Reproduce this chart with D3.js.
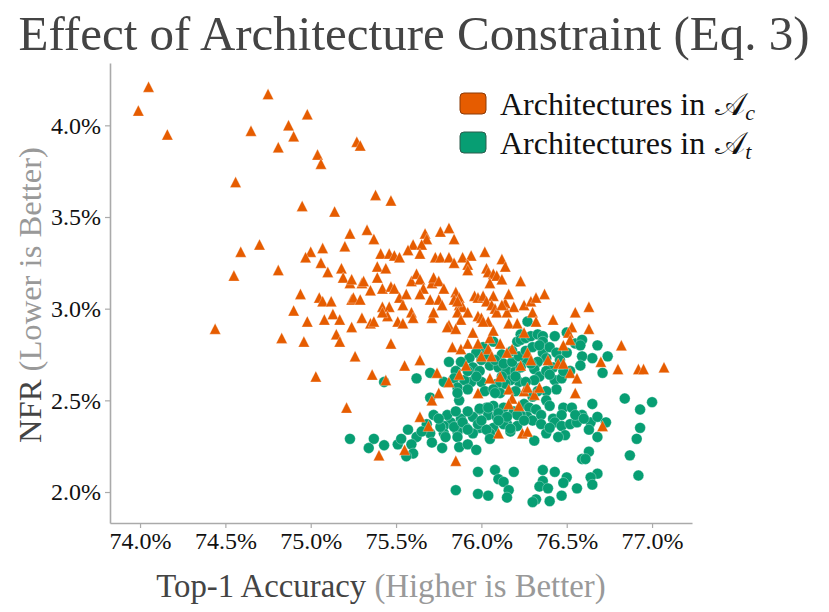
<!DOCTYPE html>
<html>
<head>
<meta charset="utf-8">
<script src="https://cdn.jsdelivr.net/npm/d3@7"></script>
<style>
  body { margin: 0; background: #fff; }
  svg { font-family: "Liberation Serif", "Times New Roman", serif; }
</style>
</head>
<body>
<svg id="chart" width="829" height="612"></svg>
<script>
// tick values on both axes
var xTicks = [74.0, 74.5, 75.0, 75.5, 76.0, 76.5, 77.0];
var yTicks = [2.0, 2.5, 3.0, 3.5, 4.0];

// legend entries
var seriesNames = ["Architectures in ", "Architectures in "];
var seriesSubs = ["c", "t"];

// architectures in A_c : [top-1 accuracy %, NFR %]
var archC = [
  [74.05,4.21],[73.99,4.08],[74.16,3.95],[74.75,4.17],[74.98,4.06],[74.65,3.97],[74.87,4.00],[74.90,3.94],[74.81,3.88],[74.56,3.69],[74.95,3.56],
  [75.27,3.91],[75.29,3.89],[75.04,3.84],[75.06,3.79],[75.38,3.62],[75.47,3.59],[75.14,3.53],[75.23,3.41],[75.33,3.43],
  [74.59,3.31],[74.70,3.35],[75.00,3.31],[74.97,3.28],[75.07,3.33],[75.20,3.34],[75.06,3.25],[75.10,3.20],[75.18,3.22],[75.19,3.17],[75.23,3.14],[75.24,3.16],[75.30,3.14],[74.55,3.18],[74.81,3.21],
  [74.94,3.08],[75.05,3.06],[75.07,3.04],[75.12,3.04],[75.24,3.05],[75.25,3.06],[75.29,3.05],[74.90,2.99],[74.98,2.93],[75.08,2.94],[75.13,2.97],[75.17,2.94],[75.30,2.95],[75.24,2.90],
  [74.44,2.89],[74.83,2.84],[74.96,2.82],[75.15,2.86],[75.17,2.82],[75.35,2.92],[75.37,3.38],
  [75.67,3.41],[75.68,3.38],[75.76,3.42],[75.81,3.44],[75.84,3.38],[75.60,3.35],[75.57,3.32],[75.65,3.35],[75.64,3.30],[75.41,3.30],[75.46,3.30],[75.49,3.29],[75.52,3.28],[75.73,3.28],[75.76,3.28],[75.81,3.28],[75.84,3.25],[75.89,3.28],[75.94,3.29],[75.92,3.24],[75.92,3.21],[76.02,3.31],[76.12,3.27],[76.14,3.23],[76.03,3.22],[76.04,3.20],[76.07,3.19],[76.09,3.18],[76.12,3.16],[76.05,3.14],[76.23,3.15],
  [75.39,3.23],[75.44,3.22],[75.39,3.17],[75.31,3.15],[75.35,3.10],[75.42,3.11],[75.47,3.12],[75.49,3.11],[75.52,3.06],[75.56,3.08],[75.59,3.15],[75.62,3.19],[75.64,3.16],[75.66,3.11],[75.64,3.08],[75.71,3.14],[75.72,3.17],[75.75,3.15],[75.78,3.11],[75.70,3.05],[75.75,3.05],[75.77,3.02],[75.85,3.09],[75.87,3.06],[75.84,3.05],[75.87,3.02],[75.89,3.01],[75.96,3.07],[75.98,3.06],[76.01,3.07],[76.07,3.07],[76.03,3.04],[76.06,3.02],[76.08,3.00],[76.14,3.03],[76.16,3.08],[76.19,3.01],[76.25,3.02],
  [75.42,3.01],[75.46,3.01],[75.54,3.02],[75.59,2.98],[75.45,2.96],[75.42,2.98],[75.37,2.93],[75.51,2.93],[75.54,2.92],[75.60,2.95],[75.71,2.95],[75.72,2.98],[75.81,2.91],[75.86,2.98],[75.88,2.94],[75.92,2.98],[75.98,2.96],[76.00,2.95],[76.04,2.93],[76.09,2.98],[76.15,2.98],[76.16,2.92],[76.21,2.92],
  [75.86,3.04],[76.12,3.02],[76.29,3.04],[75.80,2.90],[75.85,2.89],[75.95,2.87],[76.01,2.93],[76.05,2.84],[76.07,2.88],[76.25,2.87],[76.30,2.98],[76.32,2.93],[76.42,2.94],[76.55,2.98],[76.63,3.01],[76.53,2.90],[76.51,2.87],[76.63,2.89],[76.52,2.83],[76.48,2.80],
  [75.83,2.79],[75.88,2.78],[75.92,2.81],[75.98,2.81],[76.04,2.78],[76.06,2.74],[76.00,2.74],[76.11,2.81],[76.18,2.78],[76.15,2.76],[76.27,2.76],[76.29,2.72],[76.23,2.69],[76.39,2.72],[76.45,2.70],[76.48,2.70],[76.70,2.71],[76.80,2.67],
  [75.91,2.69],[75.87,2.64],[75.81,2.60],[75.98,2.54],[76.05,2.62],[76.11,2.63],[76.16,2.56],[76.18,2.51],[76.16,2.48],[76.22,2.47],[76.25,2.55],[76.27,2.57],[76.31,2.53],[76.34,2.57],[76.52,2.65],[76.56,2.62],[76.55,2.54],[76.10,2.32],[76.24,2.32],[76.27,2.33],[76.71,2.36],
  [76.37,3.08],[76.32,3.06],[76.82,2.80],[76.92,2.67],[76.95,2.67],[77.07,2.68],
  [75.21,2.46],[75.40,2.20],[75.55,2.23],[75.64,2.41],[75.69,2.36],[75.85,2.17],[75.75,2.54],[75.71,2.50],
  [75.47,2.81],[75.55,2.69],[75.64,2.72],[75.74,2.65],[75.44,2.61],[75.03,2.63],[75.26,2.74],[75.36,2.64]
];

// architectures in A_t : [top-1 accuracy %, NFR %]
var archT = [
  [76.21,2.82],[76.18,2.77],[76.12,2.75],[76.07,2.82],[76.01,2.79],[75.97,2.76],[75.93,2.73],[75.88,2.71],[75.81,2.71],[75.85,2.66],[75.95,2.68],[75.99,2.66],[76.05,2.69],[76.10,2.68],[76.15,2.66],[76.20,2.66],
  [76.22,2.60],[76.17,2.61],[76.14,2.59],[76.09,2.59],[76.00,2.60],[75.94,2.60],[75.90,2.61],[75.84,2.62],[75.78,2.60],[75.86,2.57],[75.92,2.56],[76.02,2.55],[76.07,2.56],[76.11,2.54],[76.20,2.55],
  [76.19,2.44],[76.13,2.46],[76.07,2.47],[76.03,2.46],[75.99,2.45],[76.04,2.42],[75.95,2.41],[75.88,2.40],[75.82,2.38],[75.78,2.36],[75.91,2.35],[75.99,2.35],[76.07,2.35],[76.15,2.37],[76.21,2.36],[76.17,2.33],[76.05,2.32],[75.95,2.32],[75.86,2.33],[75.78,2.32],
  [76.27,2.93],[76.23,2.86],[76.23,2.83],[76.26,2.84],[76.29,2.85],[76.33,2.86],[76.36,2.85],[76.43,2.85],[76.36,2.82],[76.50,2.87],[76.55,2.81],[76.59,2.83],[76.58,2.80],[76.50,2.76],[76.68,2.80],[76.65,2.73],[76.74,2.74],[76.59,2.74],[76.58,2.69],[76.52,2.66],[76.71,2.65],
  [76.36,2.76],[76.38,2.73],[76.33,2.71],[76.31,2.67],[76.29,2.70],[76.26,2.72],[76.23,2.68],[76.34,2.63],[76.31,2.61],[76.26,2.60],[76.43,2.61],[76.47,2.62],[76.44,2.56],[76.38,2.55],[76.33,2.55],[76.30,2.52],[76.38,2.50],[76.40,2.47],[76.25,2.48],[76.28,2.46],[76.32,2.45],
  [76.27,2.41],[76.23,2.42],[76.30,2.39],[76.35,2.42],[76.42,2.40],[76.48,2.46],[76.53,2.46],[76.47,2.42],[76.43,2.38],[76.47,2.36],[76.52,2.37],[76.56,2.38],[76.59,2.42],[76.64,2.38],[76.68,2.41],[76.73,2.38],[76.65,2.48],[76.63,2.34],[76.68,2.30],[76.49,2.31],[76.45,2.30],[76.38,2.32],[76.31,2.28],
  [76.84,2.51],[76.93,2.45],[77.00,2.49],[76.93,2.35],[76.91,2.29],[76.87,2.20],[76.92,2.09],
  [76.63,2.22],[76.59,2.18],[76.61,2.18],[76.68,2.10],[76.64,2.08],[76.65,2.04],[76.36,2.12],[76.43,2.11],[76.50,2.08],[76.48,2.05],[76.36,2.06],[76.34,2.03],[76.39,2.02],[76.56,2.02],[76.47,1.98],[76.32,1.96],[76.30,1.945],[76.40,1.95],
  [75.23,2.29],[75.37,2.29],[75.34,2.24],[75.43,2.255],[75.51,2.26],[75.53,2.29],[75.57,2.34],[75.62,2.30],[75.59,2.26],[75.60,2.21],[75.56,2.195],
  [75.72,2.42],[75.70,2.32],[75.71,2.27],[75.76,2.355],[75.77,2.24],[75.79,2.30],[75.84,2.355],[75.86,2.30],[75.87,2.245],[75.89,2.38],[75.92,2.34],[75.92,2.26],[75.97,2.23],[75.98,2.37],[76.03,2.34],[76.05,2.29],
  [75.99,2.455],[76.04,2.46],[76.09,2.41],[76.13,2.37],[76.17,2.345],[76.21,2.42],[75.87,2.50],[75.70,2.515],[75.86,2.54],[76.08,2.54],
  [75.98,2.11],[76.08,2.12],[76.19,2.11],[76.10,2.07],[76.13,2.055],[76.16,2.01],[76.15,1.97],[75.85,2.01],[75.98,1.99],[76.04,1.98],
  [75.43,2.60],[75.62,2.62],[75.70,2.65],
  [76.00,2.72],[76.03,2.75],[76.08,2.72],[76.13,2.70],[76.18,2.71],[76.22,2.74],[76.26,2.77],[76.30,2.79],[76.34,2.80],[76.40,2.79],[76.44,2.76],[76.46,2.72],[76.42,2.68],[76.38,2.66],[76.20,2.63],[76.12,2.63],[75.97,2.63],[75.92,2.66],[76.48,2.66],[76.40,2.64],
  [75.80,2.42],[75.85,2.44],[75.92,2.44],[76.10,2.43],[76.15,2.41],[76.25,2.39],[76.35,2.37],[76.40,2.35],[76.55,2.42],[76.60,2.40],[76.00,2.39],[76.10,2.39],[75.75,2.40],[75.68,2.37],[75.65,2.33]
];

var orange = "#e65c00";
var green = "#079e73";

var svg = d3.select("#chart");

// plot frame (left / bottom spines only)
var plot = {left: 110, right: 692, top: 63, bottom: 523};

var x = d3.scaleLinear().domain([73.824, 77.234]).range([plot.left, plot.right]);
var y = d3.scaleLinear().domain([1.831, 4.340]).range([plot.bottom, plot.top]);

var fmt = function(d){ return d.toFixed(1) + "%"; };

// title
svg.append("text")
  .attr("x", 414).attr("y", 50)
  .attr("text-anchor", "middle")
  .attr("font-size", 49)
  .attr("fill", "#444")
  .text("Effect of Architecture Constraint (Eq. 3)");

// axes
var xAxis = svg.append("g")
  .attr("transform", "translate(0," + plot.bottom + ")")
  .call(d3.axisBottom(x).tickValues(xTicks).tickFormat(fmt).tickSize(5).tickPadding(4).tickSizeOuter(0));
var yAxis = svg.append("g")
  .attr("transform", "translate(" + plot.left + ",0)")
  .call(d3.axisLeft(y).tickValues(yTicks).tickFormat(fmt).tickSize(5).tickPadding(4).tickSizeOuter(0));

[xAxis, yAxis].forEach(function(g){
  g.attr("font-family", null).attr("font-size", null);
  g.select(".domain").attr("stroke", "#aaa").attr("stroke-width", 1.6);
  g.selectAll(".tick line").attr("stroke", "#aaa").attr("stroke-width", 1.2);
  g.selectAll(".tick text").attr("fill", "#111").attr("font-size", 24);
});

// axis titles: main part dark, hint in light grey
var xt = svg.append("text")
  .attr("x", 381).attr("y", 597)
  .attr("text-anchor", "middle")
  .attr("font-size", 32.8);
xt.append("tspan").attr("fill", "#444").text("Top-1 Accuracy ");
xt.append("tspan").attr("fill", "#999").text("(Higher is Better)");

var yt = svg.append("text")
  .attr("transform", "translate(41,295) rotate(-90)")
  .attr("text-anchor", "middle")
  .attr("font-size", 32.6);
yt.append("tspan").attr("fill", "#444").text("NFR ");
yt.append("tspan").attr("fill", "#999").text("(Lower is Better)");

// markers: A_t circles below, A_c triangles on top
var tri = "M0,-5.6L5.6,5.4L-5.6,5.4Z";

svg.append("g").selectAll("circle")
  .data(archT)
  .enter().append("circle")
  .attr("cx", function(d){ return x(d[0]); })
  .attr("cy", function(d){ return y(d[1]); })
  .attr("r", 5.4)
  .attr("fill", green)
  .attr("stroke", "#fff").attr("stroke-width", 0.5).attr("stroke-opacity", 0.6);

svg.append("g").selectAll("path")
  .data(archC)
  .enter().append("path")
  .attr("d", tri)
  .attr("transform", function(d){ return "translate(" + x(d[0]) + "," + y(d[1]) + ")"; })
  .attr("fill", orange)
  .attr("stroke", "#fff").attr("stroke-width", 0.5).attr("stroke-opacity", 0.6);

// legend
var legend = svg.append("g");
var legendColors = [orange, green];
var legendEdges = ["#8a3a08", "#2d5c4d"];
seriesNames.forEach(function(name, i){
  var yy = 115 + i * 39;
  legend.append("rect")
    .attr("x", 460).attr("y", yy - 22)
    .attr("width", 26).attr("height", 21)
    .attr("rx", 4).attr("ry", 4)
    .attr("fill", legendColors[i])
    .attr("stroke", legendEdges[i]).attr("stroke-width", 1);
  var t = legend.append("text")
    .attr("x", 500).attr("y", yy)
    .attr("font-size", 32)
    .attr("fill", "#111");
  t.append("tspan").text(name);
  t.append("tspan").attr("dx", 2).text("\uD835\uDC9C");
  t.append("tspan").attr("font-size", 22).attr("font-style", "italic").attr("dy", 5).text(seriesSubs[i]);
});
</script>
</body>
</html>
